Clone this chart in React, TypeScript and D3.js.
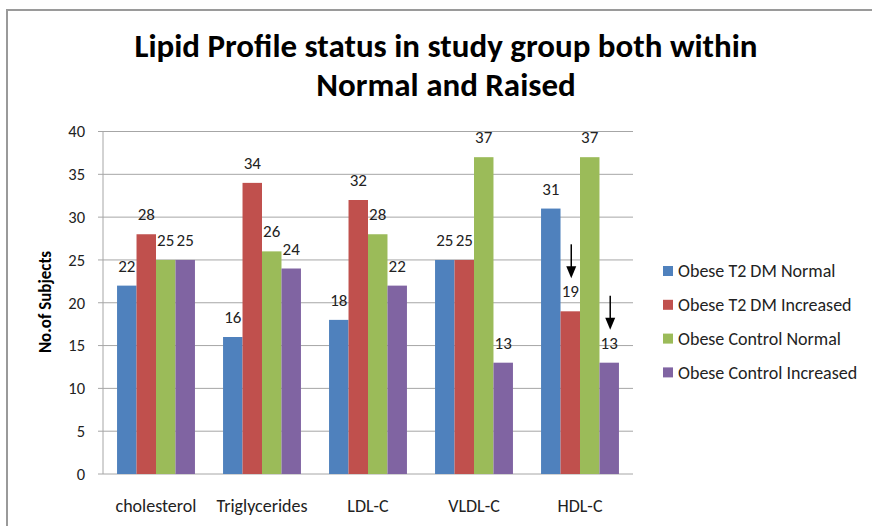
import React from 'react';
import * as d3 from 'd3';

const categories = ['cholesterol', 'Triglycerides', 'LDL-C', 'VLDL-C', 'HDL-C'];
const seriesNames = [
  'Obese T2 DM Normal',
  'Obese T2 DM Increased',
  'Obese Control Normal',
  'Obese Control Increased',
];
const seriesColors = ['#4F81BD', '#C0504D', '#9BBB59', '#8064A2'];
const t2dmNormal = [22, 16, 18, 25, 31];
const t2dmIncreased = [28, 34, 32, 25, 19];
const controlNormal = [25, 26, 28, 37, 37];
const controlIncreased = [25, 24, 22, 13, 13];
const yTicks = [0, 5, 10, 15, 20, 25, 30, 35, 40];
// arrows drawn over these bars in the original
const arrowMarks = [
  { cat: 'HDL-C', series: 1 },
  { cat: 'HDL-C', series: 3 },
];

const FONT = 'Carlito, Calibri, Lato, sans-serif';
const W = 872;
const H = 526;
const left = 103;
const right = 633;
const top = 131.5;
const bottom = 474;

const App = () => {
  const values = [t2dmNormal, t2dmIncreased, controlNormal, controlIncreased];
  const x = d3
    .scaleBand()
    .domain(categories)
    .range([left, right])
    .paddingInner(0.265)
    .paddingOuter(0.1325);
  const xs = d3
    .scaleBand()
    .domain(d3.range(seriesNames.length).map(String))
    .range([0, x.bandwidth()]);
  const y = d3.scaleLinear().domain([0, 40]).range([bottom, top]);

  const barX = (cat, s) => x(cat) + xs(String(s));
  const labelY = v => y(v) - 14;

  return (
    <svg
      width={W}
      height={H}
      style={{ position: 'absolute', left: 0, top: 0, background: '#fff' }}
      fontFamily={FONT}
    >
      <rect x={7} y={10} width={W + 20} height={H + 20} fill="#fff" stroke="#9a9a9a" strokeWidth={2} />

      <text x={446} y={56.5} textAnchor="middle" fontWeight="bold" fontSize={33} fill="#000">
        Lipid Profile status in study group both within
      </text>
      <text x={446} y={96} textAnchor="middle" fontWeight="bold" fontSize={33} fill="#000">
        Normal and Raised
      </text>

      {yTicks.map(t => (
        <g key={t}>
          <line x1={left - 5} x2={right} y1={y(t)} y2={y(t)} stroke="#a6a6a6" strokeWidth={1} />
          <text x={85} y={y(t)} dy="0.35em" textAnchor="end" fontSize={16.5} fill="#222">
            {t}
          </text>
        </g>
      ))}
      <line x1={left} x2={left} y1={top} y2={bottom} stroke="#a6a6a6" />

      <text
        transform={`translate(51,302) rotate(-90)`}
        textAnchor="middle"
        fontWeight="bold"
        fontSize={17}
        fill="#000"
      >
        No.of Subjects
      </text>

      {values.map((arr, s) =>
        arr.map((v, i) => (
          <rect
            key={`${s}-${i}`}
            x={barX(categories[i], s)}
            y={y(v)}
            width={xs.bandwidth()}
            height={y(0) - y(v)}
            fill={seriesColors[s]}
          />
        ))
      )}

      {values.map((arr, s) =>
        arr.map((v, i) => (
          <text
            key={`l${s}-${i}`}
            x={barX(categories[i], s) + xs.bandwidth() / 2}
            y={labelY(v)}
            textAnchor="middle"
            fontSize={17}
            fill="#222"
          >
            {v}
          </text>
        ))
      )}

      {arrowMarks.map(({ cat, series }) => {
        const v = values[series][categories.indexOf(cat)];
        const cx = barX(cat, series) + xs.bandwidth() / 2 + 1;
        const tip = labelY(v) - 19;
        return (
          <g key={`${cat}-${series}`}>
            <line x1={cx} x2={cx} y1={tip - 34} y2={tip - 10} stroke="#000" strokeWidth={1.5} />
            <path d={`M${cx - 5},${tip - 12}L${cx + 5},${tip - 12}L${cx},${tip}Z`} fill="#000" />
          </g>
        );
      })}

      {categories.map(c => (
        <text key={c} x={x(c) + x.bandwidth() / 2} y={512} textAnchor="middle" fontSize={18} fill="#222">
          {c}
        </text>
      ))}

      {seriesNames.map((n, i) => (
        <g key={n} transform={`translate(663,${271 + i * 33.8})`}>
          <rect x={0} y={-5} width={10} height={10} fill={seriesColors[i]} />
          <text x={15} y={0} dy="0.35em" fontSize={18} fill="#222">
            {n}
          </text>
        </g>
      ))}
    </svg>
  );
};

export default App;
